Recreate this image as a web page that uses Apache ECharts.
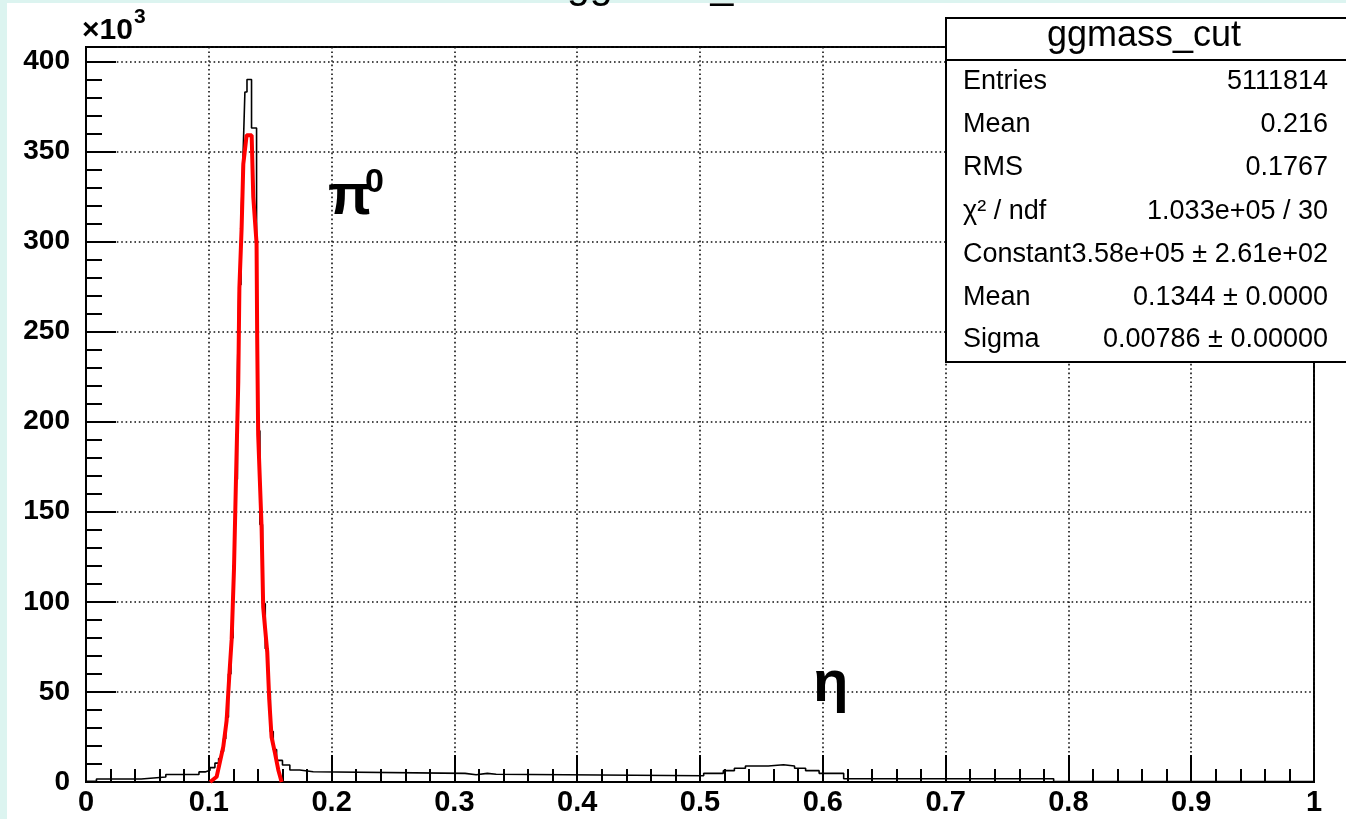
<!DOCTYPE html>
<html>
<head>
<meta charset="utf-8">
<script src="https://cdn.jsdelivr.net/npm/echarts@6.0.0/dist/echarts.min.js"></script>
<style>
  html, body { margin: 0; padding: 0; background: #dcf4f0; }
  #chart { width: 1346px; height: 819px; }
</style>
</head>
<body>
<div id="chart"></div>
<script>
// ggmass_cut histogram, counts in units of 10^3 (left bin edges + contents)
const binEdges = [0, 0.0085, 0.045, 0.065, 0.092, 0.097, 0.101, 0.105, 0.108, 0.110,
  0.112, 0.1138, 0.1160, 0.1180, 0.1198, 0.1215, 0.1233, 0.1245, 0.1262, 0.1278,
  0.1294, 0.1311, 0.1348, 0.1389, 0.1392, 0.1398, 0.1416, 0.1437, 0.1460, 0.1484,
  0.1501, 0.1525, 0.1552, 0.1600, 0.1660, 0.1740, 0.1850, 0.3087, 0.3177, 0.3268,
  0.3340, 0.5030, 0.5190, 0.5280, 0.5370, 0.5556, 0.5680, 0.5770, 0.5860, 0.5970,
  0.6170, 0.7880];
const binCounts = [0.4, 1.7, 2.8, 4.2, 5.6, 6.5, 8.0, 10.5, 13, 17,
  24, 36, 60, 80, 120, 168, 225, 276, 310, 346,
  383, 390, 363, 312, 250, 195, 143, 99, 74, 49,
  28, 18, 12, 9.4, 6.7, 5.7, 4.8, 4.0, 4.8, 4.3,
  3.5, 4.8, 6.3, 7.6, 8.9, 9.6, 8.9, 7.6, 6.3, 4.8,
  1.8, 0.3];
const histEnd = 1.0;

// gaus fit (red)
const fitX = [0.101, 0.1064, 0.1118, 0.1145, 0.1167, 0.1186, 0.1205, 0.1221, 0.1240, 0.1249,
  0.1267, 0.1281, 0.1308, 0.1349, 0.1362, 0.1389, 0.1394, 0.1402, 0.1430, 0.1443,
  0.1476, 0.1492, 0.1511, 0.1539, 0.1566, 0.1593];
const fitY = [0, 2.9, 19.6, 34, 59, 79, 118, 167, 222, 274,
  307, 343, 359, 359, 325, 299, 247, 193, 141, 97,
  72, 46, 25, 16, 6.7, 0];

const statsTitle = 'ggmass_cut';
const statsNames = ['Entries', 'Mean', 'RMS', 'χ² / ndf', 'Constant', 'Mean', 'Sigma'];
const statsValues = ['5111814', '0.216', '0.1767', '1.033e+05 / 30',
  '3.58e+05 ± 2.61e+02', '0.1344 ± 0.0000', '0.00786 ± 0.00000'];

const histData = binEdges.map((e, i) => [e, binCounts[i]]);
histData.push([histEnd, binCounts[binCounts.length - 1]]);
const fitData = fitX.map((x, i) => [x, fitY[i]]);

const FONT = 'Liberation Sans';
const black = '#000';
const dotted = { color: '#111', width: 1.6, type: [1.6, 2.8] };

function txt(x, y, text, size, opts) {
  opts = opts || {};
  return {
    type: 'text', x: x, y: y, z: 60, silent: true,
    style: {
      text: text, fill: black,
      fontSize: size, fontFamily: FONT, fontWeight: opts.bold ? 'bold' : 'normal',
      align: opts.align || 'left', textAlign: opts.align || 'left',
      verticalAlign: 'middle', textVerticalAlign: 'middle'
    }
  };
}

const graphics = [
  { type: 'rect', z: -10, silent: true, shape: { x: 7, y: 3, width: 1339, height: 816 }, style: { fill: '#fff' } },
  txt(567, -13, 'ggmass_cut', 41),
  txt(82, 31, '×10', 30, { bold: true }),
  txt(134, 17, '3', 21, { bold: true }),
  txt(328, 198, 'π', 58, { bold: true }),
  txt(365, 183, '0', 34, { bold: true }),
  txt(813, 685, 'η', 58, { bold: true }),
  { type: 'rect', z: 50, silent: true, shape: { x: 946, y: 18, width: 410, height: 344 },
    style: { fill: '#fff', stroke: black, lineWidth: 2 } },
  { type: 'line', z: 51, silent: true, shape: { x1: 946, y1: 60, x2: 1346, y2: 60 },
    style: { stroke: black, lineWidth: 2 } },
  txt(1144, 36, statsTitle, 36, { align: 'center' })
];
const rowY = [82, 125, 168, 212, 255, 298, 340];
statsNames.forEach((n, i) => {
  graphics.push(txt(963, rowY[i], n, 27));
  graphics.push(txt(1328, rowY[i], statsValues[i], 27, { align: 'right' }));
});

const chart = echarts.init(document.getElementById('chart'), null, { renderer: 'canvas' });
chart.setOption({
  animation: false,
  backgroundColor: '#dcf4f0',
  grid: { left: 86, right: 32, top: 47, bottom: 37, show: true, borderColor: black, borderWidth: 2, backgroundColor: 'transparent' },
  xAxis: {
    type: 'value', min: 0, max: 1, interval: 0.1,
    axisLine: { show: true, onZero: false, lineStyle: { color: black, width: 2 } },
    axisTick: { show: true, inside: true, length: 27, lineStyle: { color: black, width: 2 } },
    minorTick: { show: true, splitNumber: 5, length: 13, lineStyle: { color: black, width: 2 } },
    axisLabel: {
      color: black, fontSize: 29, fontWeight: 'bold', fontFamily: FONT, margin: 6,
      formatter: v => (v === 0 ? '0' : v === 1 ? '1' : v.toFixed(1))
    },
    splitLine: { show: true, lineStyle: dotted }
  },
  yAxis: [{
    type: 'value', min: 0, max: 408, interval: 50,
    axisLine: { show: true, onZero: false, lineStyle: { color: black, width: 2 } },
    axisTick: { show: true, inside: true, length: 30, lineStyle: { color: black, width: 2 } },
    axisLabel: {
      color: black, fontSize: 28, fontWeight: 'bold', fontFamily: FONT, margin: 16,
      formatter: v => (v > 400 ? '' : String(v))
    },
    splitLine: { show: true, lineStyle: dotted }
  }, {
    type: 'value', min: 0, max: 408, interval: 10, position: 'left', offset: 0,
    axisLine: { show: false },
    axisTick: { show: true, inside: true, length: 16, lineStyle: { color: black, width: 2 } },
    axisLabel: { show: false },
    splitLine: { show: false }
  }],
  series: [{
    type: 'line', step: 'end', data: histData, yAxisIndex: 0,
    symbol: 'none', lineStyle: { color: black, width: 1.6 }, itemStyle: { color: black }, z: 3
  }, {
    type: 'line', data: fitData, yAxisIndex: 0,
    symbol: 'none', lineStyle: { color: '#ff0000', width: 4 }, itemStyle: { color: '#ff0000' }, z: 4
  }],
  graphic: graphics
});
</script>
</body>
</html>
